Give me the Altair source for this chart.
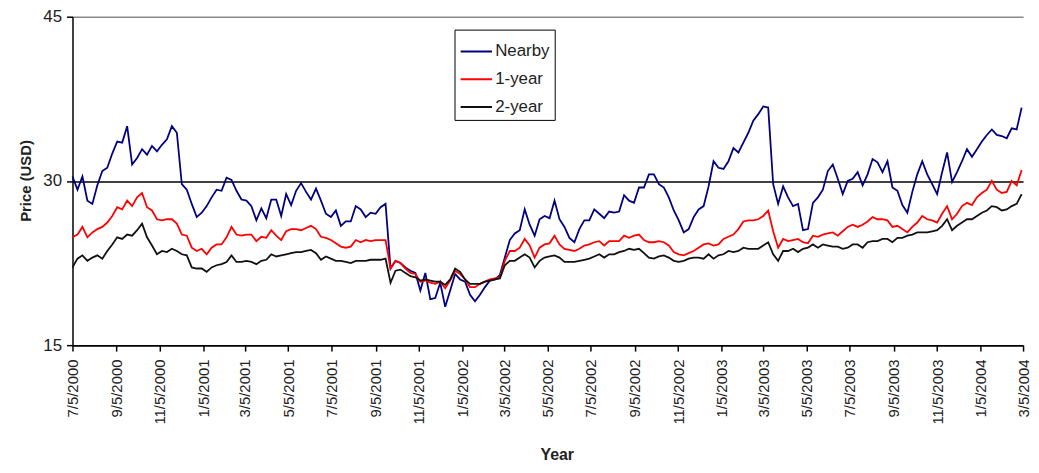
import altair as alt
import pandas as pd

# ---- data (weekly, starting 7/5/2000) ----
start_date = "2000-07-05"

nearby = [
    30.4, 29.2, 30.4, 28.2, 27.9, 29.6, 30.9, 31.2, 32.5, 33.6,
    33.5, 35.0, 31.5, 32.1, 32.9, 32.4, 33.2, 32.7, 33.3, 33.8,
    35.0, 34.4, 29.7, 29.2, 27.9, 26.7, 27.1, 27.7, 28.5, 29.2,
    29.1, 30.3, 30.1, 29.1, 28.3, 28.2, 27.7, 26.4,
    27.5, 26.6, 28.3, 28.3, 26.8, 28.8, 27.8, 29.1, 29.8, 29.0,
    28.3, 29.3, 28.2, 27.0, 26.7, 27.3, 25.9, 26.3, 26.3, 27.7,
    27.4, 26.7, 27.1, 27.0, 27.6, 27.9,
    22.0, 22.7, 22.5, 22.1, 21.8, 21.6, 20.0, 21.6, 19.2, 19.3,
    20.7, 18.5, 20.0, 21.5, 21.0, 20.8, 19.6, 19.0, 19.6, 20.3,
    20.9, 21.0, 21.4, 23.0, 24.6, 25.2, 25.5, 27.4, 26.0, 25.0,
    26.5, 26.8, 26.6, 28.2, 26.5, 25.8, 24.8, 24.4, 25.6, 26.4,
    26.4, 27.4, 27.0, 26.6, 27.2, 27.1, 27.2, 28.7, 28.2, 28.0,
    29.4, 29.4, 30.6, 30.6, 29.7, 29.4, 28.5, 27.3, 26.4, 25.3,
    25.6, 26.7, 27.4, 27.7, 29.5, 31.8, 31.2, 31.1, 31.8, 33.0,
    32.6, 33.5, 34.4, 35.5, 36.1, 36.8, 36.7, 29.7, 27.9, 29.5,
    28.5, 27.7, 27.9, 25.5, 25.6, 28.0, 28.5, 29.2, 30.9,
    31.5, 30.2, 28.8, 30.0, 30.2, 30.8, 29.6, 30.6, 32.0, 31.7,
    30.8, 31.8, 29.4, 29.1, 27.8, 27.1, 29.0, 30.6, 31.8, 30.6,
    29.7, 28.8, 30.8, 32.6, 29.9, 30.8, 31.8, 32.9, 32.2, 32.9,
    33.6, 34.2, 34.7, 34.2, 34.1, 33.9, 34.8, 34.7, 36.7,
]

one_year = [
    24.85, 25.1, 25.8, 24.85, 25.3, 25.6, 25.8, 26.2, 26.8, 27.6,
    27.4, 28.2, 27.7, 28.5, 28.9, 27.6, 27.3, 26.5, 26.4, 26.5,
    26.5, 26.1, 25.1, 25.0, 23.9, 23.6, 23.8, 23.3, 23.9, 24.2,
    24.2, 24.85, 25.8, 25.1, 25.0, 25.1, 25.1, 24.5,
    24.9, 24.8, 25.5, 25.0, 24.6, 25.4, 25.6, 25.6, 25.5, 25.7,
    25.9, 25.6, 24.9, 24.8, 24.6, 24.3, 24.0, 23.9, 24.0, 24.6,
    24.4, 24.6, 24.5, 24.6, 24.6, 24.6,
    22.0, 22.7, 22.5, 22.0, 21.6, 21.5, 20.8, 20.9, 20.7, 20.6,
    20.8, 20.2, 20.9, 21.8, 21.5, 21.0, 20.3, 20.3, 20.6, 20.8,
    21.0, 21.1, 21.2, 22.7, 23.6, 23.6, 23.9, 24.7, 24.1, 23.0,
    23.9, 24.2, 24.3, 25.0, 24.2, 23.8, 23.7, 23.6, 23.8, 24.1,
    24.2, 24.4, 24.5, 24.1, 24.5, 24.5, 24.5, 25.0, 24.8, 25.0,
    25.1, 24.6, 24.4, 24.4, 24.5, 24.4, 24.1, 23.5, 23.3, 23.2,
    23.4, 23.6, 23.9, 24.2, 24.3, 24.1, 24.2, 24.7, 24.9, 25.1,
    25.6, 26.3, 26.4, 26.4, 26.5, 26.8, 27.3, 25.4, 23.9, 24.7,
    24.5, 24.6, 24.7, 24.4, 24.3, 25.0, 24.9, 25.1, 25.2,
    25.3, 25.0, 25.4, 25.8, 26.0, 25.8, 26.0, 26.3, 26.7, 26.5,
    26.5, 26.4, 25.8, 25.9, 25.6, 25.3, 25.8, 26.2, 26.8, 26.5,
    26.4, 26.2, 27.0, 27.7, 26.5, 27.0, 27.7, 28.0, 27.8, 28.5,
    28.9, 29.2, 30.0, 29.2, 28.9, 29.0, 30.0, 29.6, 31.0,
]

two_year = [
    22.1, 22.9, 23.2, 22.7, 23.0, 23.2, 22.9, 23.6, 24.2, 24.85,
    24.7, 25.1, 25.0, 25.5, 26.1, 24.85, 24.1, 23.3, 23.6, 23.5,
    23.8, 23.6, 23.3, 23.2, 22.1, 22.0, 22.0, 21.7, 22.1, 22.3,
    22.4, 22.6, 23.2, 22.6, 22.6, 22.7, 22.6, 22.4,
    22.7, 22.8, 23.3, 23.1, 23.2, 23.3, 23.4, 23.5, 23.5, 23.6,
    23.7, 23.4, 22.8, 23.1, 22.9, 22.7, 22.7, 22.6, 22.5, 22.7,
    22.7, 22.7, 22.8, 22.8, 22.8, 22.9,
    20.7, 21.8, 21.9, 21.6, 21.3, 21.2, 20.9, 21.0, 20.9, 20.8,
    20.8, 20.5, 21.0, 22.0, 21.7, 21.0, 20.6, 20.6, 20.6, 20.8,
    20.9, 21.0, 21.1, 22.3, 22.7, 22.7, 23.0, 23.3, 23.0, 22.1,
    22.7, 23.0, 23.1, 23.2, 23.0, 22.6, 22.6, 22.6, 22.7, 22.8,
    22.9, 23.1, 23.3, 23.0, 23.3, 23.3, 23.5, 23.6, 23.8, 23.7,
    23.8, 23.4, 23.0, 22.9, 23.1, 23.2, 23.0, 22.7, 22.6, 22.7,
    22.9, 23.0, 23.0, 22.9, 23.3, 22.9, 23.2, 23.3, 23.6, 23.5,
    23.6, 23.9, 23.8, 23.8, 23.8, 24.1, 24.4, 23.3, 22.7, 23.6,
    23.6, 23.8, 23.5, 23.8, 23.9, 24.2, 23.9, 24.2, 24.1,
    24.0, 24.0, 23.8, 23.9, 24.2, 24.2, 23.9, 24.4, 24.5, 24.5,
    24.7, 24.7, 24.4, 24.8, 24.8, 25.0, 25.1, 25.3, 25.3, 25.3,
    25.4, 25.5, 25.9, 26.5, 25.5, 25.9, 26.2, 26.5, 26.5, 26.8,
    27.1, 27.3, 27.7, 27.6, 27.3, 27.4, 27.7, 27.9, 28.8,
]

series_names = ["Nearby", "1-year", "2-year"]
series_colors = ["#000080", "#FF0000", "#111111"]

tick_dates = [
    (2000, 7, 5), (2000, 9, 5), (2000, 11, 5),
    (2001, 1, 5), (2001, 3, 5), (2001, 5, 5), (2001, 7, 5), (2001, 9, 5), (2001, 11, 5),
    (2002, 1, 5), (2002, 3, 5), (2002, 5, 5), (2002, 7, 5), (2002, 9, 5), (2002, 11, 5),
    (2003, 1, 5), (2003, 3, 5), (2003, 5, 5), (2003, 7, 5), (2003, 9, 5), (2003, 11, 5),
    (2004, 1, 5), (2004, 3, 5),
]
y_ticks = [15, 30, 45]

# ---- build the long table ----
dates = pd.date_range(start_date, periods=len(nearby), freq="7D")
rows = []
for name, vals in zip(series_names, [nearby, one_year, two_year]):
    for d, v in zip(dates, vals):
        rows.append({"Date": d.strftime("%Y-%m-%dT00:00:00"), "Series": name, "Price": v})
df = pd.DataFrame(rows)

FONT = "Liberation Sans"

x_enc = alt.X(
    "Date:T",
    scale=alt.Scale(domain=[alt.DateTime(year=2000, month=7, date=5),
                            alt.DateTime(year=2004, month=3, date=5)]),
    axis=alt.Axis(
        values=[alt.DateTime(year=y, month=m, date=d) for (y, m, d) in tick_dates],
        format="%-m/%-d/%Y",
        labelAngle=270,
        labelOverlap=False,
        labelFlush=False,
        labelFont=FONT,
        labelFontSize=15,
        labelColor="#222222",
        labelPadding=8,
        tickSize=6,
        tickColor="#000000",
        tickWidth=1.5,
        domainColor="#000000",
        domainWidth=1.5,
        grid=False,
        title="Year",
        titleFont=FONT,
        titleFontSize=16,
        titleFontWeight="bold",
        titleColor="#222222",
        titleX=488,
        titleY=115,
        titleAlign="center",
        titleBaseline="alphabetic",
    ),
)

y_enc = alt.Y(
    "Price:Q",
    scale=alt.Scale(domain=[15, 45], nice=False, zero=False),
    axis=alt.Axis(
        values=y_ticks,
        labelFont=FONT,
        labelFontSize=17,
        labelColor="#222222",
        labelPadding=5,
        tickSize=6,
        tickColor="#000000",
        tickWidth=1.5,
        domainColor="#000000",
        domainWidth=1.5,
        grid=True,
        gridColor={"condition": {"test": "datum.value === 45", "value": "#888888"},
                   "value": "#000000"},
        gridWidth=1.5,
        title="Price (USD)",
        titleFont=FONT,
        titleFontSize=15,
        titleFontWeight="bold",
        titleColor="#222222",
        titleAngle=270,
        titleX=-47,
        titleY=165,
        titleAlign="center",
        titleBaseline="middle",
    ),
)

color_enc = alt.Color(
    "Series:N",
    scale=alt.Scale(domain=series_names, range=series_colors),
    legend=alt.Legend(
        title=None,
        orient="none",
        legendX=385,
        legendY=13,
        padding=5,
        rowPadding=3,
        symbolType="stroke",
        symbolSize=1000,
        symbolStrokeWidth=2,
        labelFont=FONT,
        labelFontSize=17,
        labelColor="#222222",
        labelOffset=2,
        strokeColor="#000000",
        fillColor="#FFFFFF",
    ),
)

base = alt.Chart(df).mark_line(strokeWidth=1.8).encode(x=x_enc, y=y_enc, color=color_enc)

layers = [base.transform_filter(alt.datum.Series == s) for s in series_names]

chart = alt.layer(*layers).properties(
    width=958,
    height=331,
    autosize=alt.AutoSizeParams(type="none"),
    padding={"left": 65, "top": 7, "right": 8, "bottom": 118},
).configure_view(stroke=None)

chart.save("out.html", embed_options={"renderer": "svg", "actions": False})
